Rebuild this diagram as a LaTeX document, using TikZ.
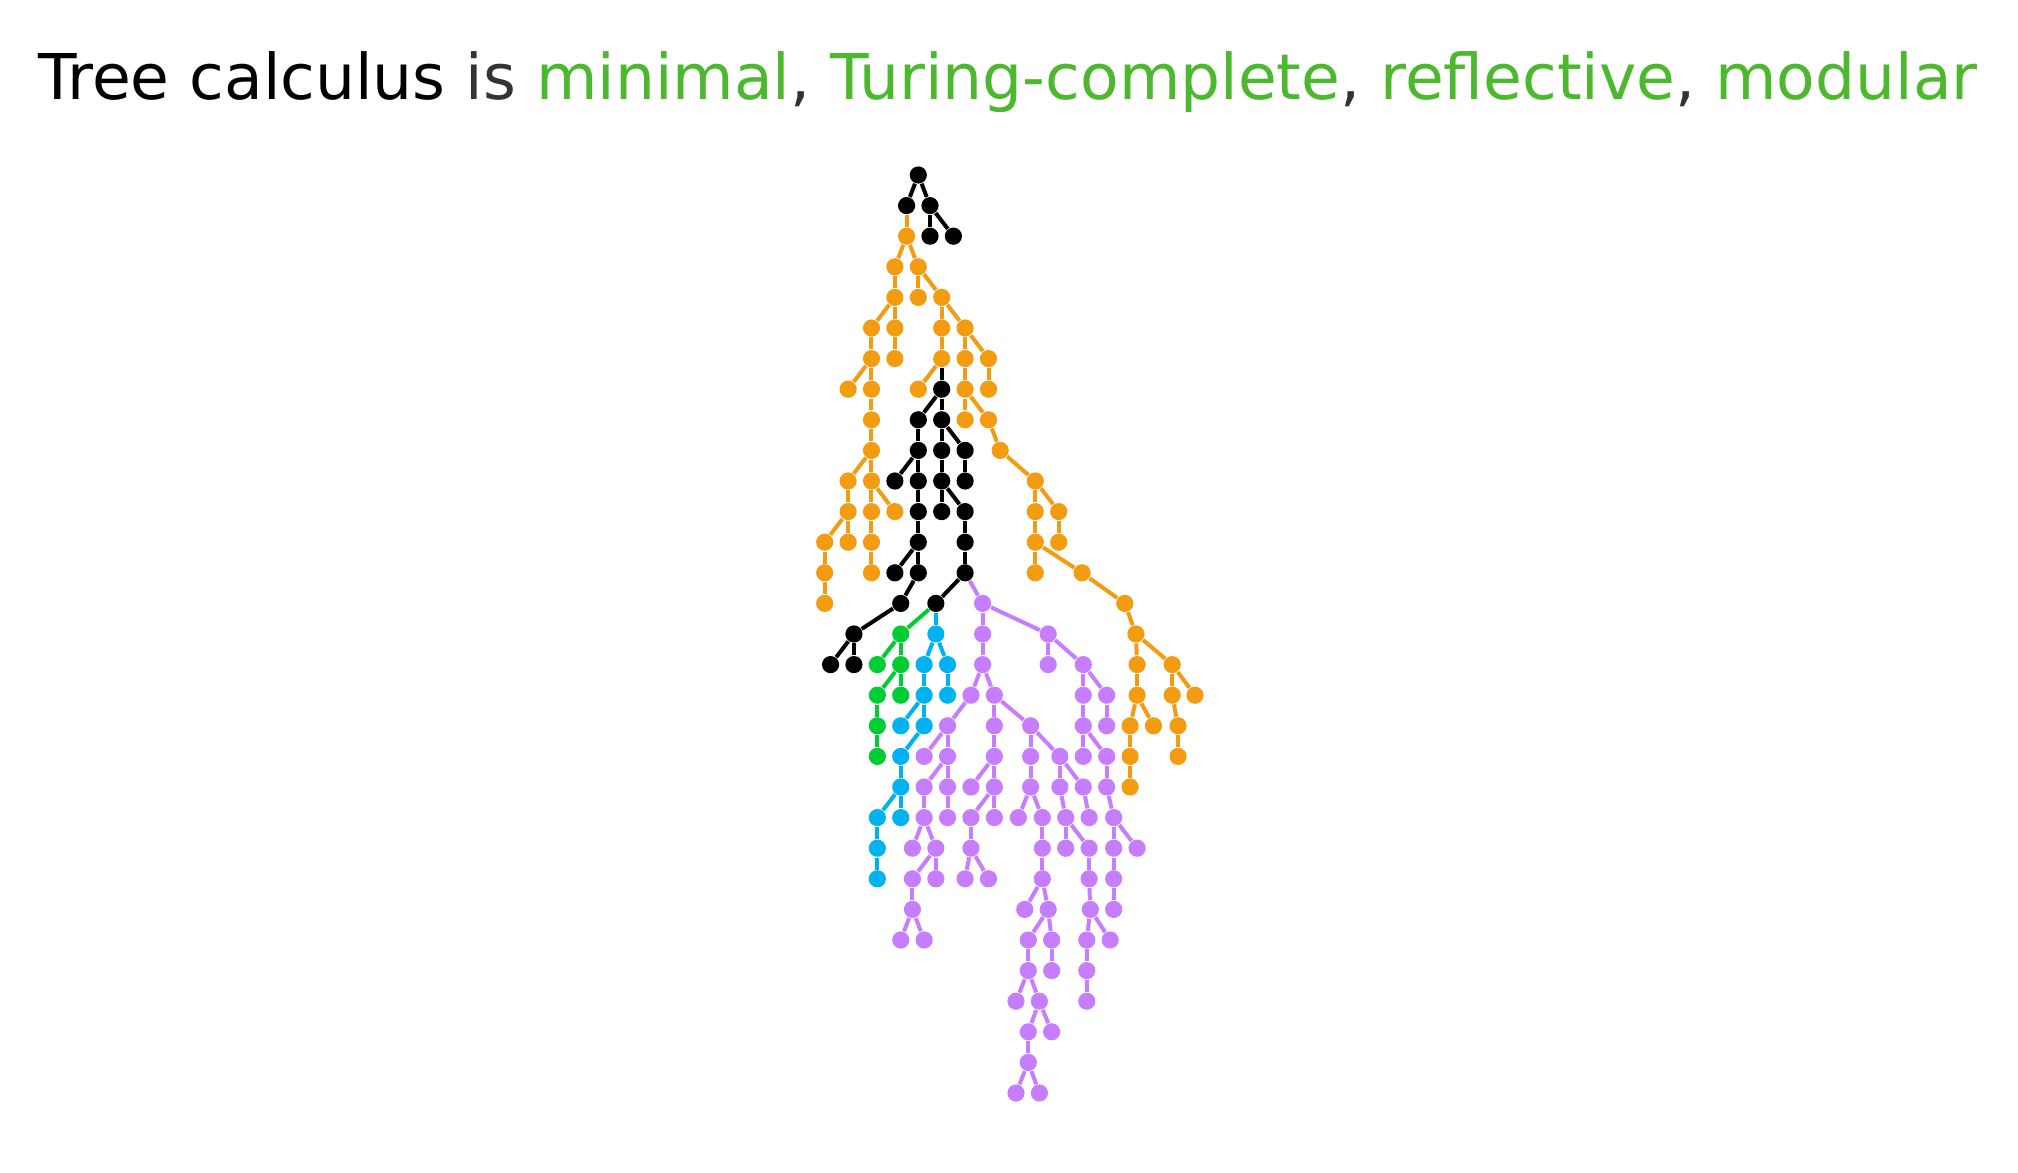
\documentclass[tikz,border=0pt]{standalone}
\usepackage{fontspec}
\setmainfont{DejaVu Sans}
\definecolor{cor}{HTML}{F39C12}
\definecolor{cpu}{HTML}{C77DFF}
\definecolor{cbl}{HTML}{00B2F0}
\definecolor{cgr}{HTML}{00CC33}
\definecolor{cbk}{HTML}{000000}
\definecolor{tgreen}{HTML}{4CB82E}
\definecolor{tgray}{HTML}{333333}
\tikzset{
  dot/.style={circle, inner sep=0pt, minimum size=0.172cm, draw=none},
  nodeb/.style={dot, fill=cbk}, edgeb/.style={draw=cbk, line width=0.04cm},
  nodeo/.style={dot, fill=cor}, edgeo/.style={draw=cor, line width=0.04cm},
  nodep/.style={dot, fill=cpu}, edgep/.style={draw=cpu, line width=0.04cm},
  nodec/.style={dot, fill=cbl}, edgec/.style={draw=cbl, line width=0.04cm},
  nodeg/.style={dot, fill=cgr}, edgeg/.style={draw=cgr, line width=0.04cm},
  titlestyle/.style={anchor=base, inner sep=0pt, font=\fontsize{17.95pt}{21pt}\selectfont}
}
\newcommand\kid[5]{\node[node#1] (#2) at (#3,#4) {}; \draw[edge#1] (#5) -- (#2);}
\begin{document}
\begin{tikzpicture}[x=0.117cm, y=-0.306cm]
\useasboundingbox (-9.183cm,1.75cm) rectangle (10.997cm,-9.97cm);
\node[titlestyle] (title) at (0.897cm,0.76cm) {Tree calculus \textcolor{tgray}{is} \textcolor{tgreen}{minimal}\textcolor{tgray}{,} \textcolor{tgreen}{Turing-complete}\textcolor{tgray}{,} \textcolor{tgreen}{reflective}\textcolor{tgray}{,} \textcolor{tgreen}{modular}};
\node[nodeb] (B0) at (0,0) {};
\kid{b}{B1}{-1}{1}{B0}
\kid{b}{B2}{1}{1}{B0}
\kid{b}{B3}{1}{2}{B2}
\kid{b}{B4}{3}{2}{B2}
\kid{o}{O1}{-1}{2}{B1}
\kid{o}{O2}{-2}{3}{O1}
\kid{o}{O3}{0}{3}{O1}
\kid{o}{O4}{-2}{4}{O2}
\kid{o}{O5}{0}{4}{O3}
\kid{o}{O6}{2}{4}{O3}
\kid{o}{O7}{-4}{5}{O4}
\kid{o}{O8}{-2}{5}{O4}
\kid{o}{O9}{2}{5}{O6}
\kid{o}{O10}{4}{5}{O6}
\kid{o}{O11}{-4}{6}{O7}
\kid{o}{O12}{-2}{6}{O8}
\kid{o}{O13}{2}{6}{O9}
\kid{o}{O14}{4}{6}{O10}
\kid{o}{O15}{6}{6}{O10}
\kid{o}{O16}{-6}{7}{O11}
\kid{o}{O17}{-4}{7}{O11}
\kid{o}{O18}{0}{7}{O13}
\kid{b}{B5}{2}{7}{O13}
\kid{o}{O19}{4}{7}{O14}
\kid{o}{O20}{6}{7}{O15}
\kid{o}{O21}{-4}{8}{O17}
\kid{b}{B6}{0}{8}{B5}
\kid{b}{B7}{2}{8}{B5}
\kid{o}{O22}{4}{8}{O19}
\kid{o}{O23}{6}{8}{O19}
\kid{o}{O24}{-4}{9}{O21}
\kid{b}{B8}{0}{9}{B6}
\kid{b}{B9}{2}{9}{B7}
\kid{b}{B10}{4}{9}{B7}
\kid{o}{O25}{7}{9}{O23}
\kid{o}{O26}{-6}{10}{O24}
\kid{o}{O27}{-4}{10}{O24}
\kid{b}{B11}{-2}{10}{B8}
\kid{b}{B12}{0}{10}{B8}
\kid{b}{B13}{2}{10}{B9}
\kid{b}{B14}{4}{10}{B10}
\kid{o}{O28}{10}{10}{O25}
\kid{o}{O29}{-6}{11}{O26}
\kid{o}{O30}{-4}{11}{O27}
\kid{o}{O31}{-2}{11}{O27}
\kid{b}{B15}{0}{11}{B12}
\kid{b}{B16}{2}{11}{B13}
\kid{b}{B17}{4}{11}{B13}
\kid{o}{O32}{10}{11}{O28}
\kid{o}{O33}{12}{11}{O28}
\kid{o}{O34}{-8}{12}{O29}
\kid{o}{O35}{-6}{12}{O29}
\kid{o}{O36}{-4}{12}{O30}
\kid{b}{B18}{0}{12}{B15}
\kid{b}{B19}{4}{12}{B17}
\kid{o}{O37}{10}{12}{O32}
\kid{o}{O38}{12}{12}{O33}
\kid{o}{O39}{-8}{13}{O34}
\kid{o}{O40}{-4}{13}{O36}
\kid{b}{B20}{-2}{13}{B18}
\kid{b}{B21}{0}{13}{B18}
\kid{b}{B22}{4}{13}{B19}
\kid{o}{O41}{10}{13}{O37}
\kid{o}{O42}{14}{13}{O37}
\kid{o}{O43}{-8}{14}{O39}
\kid{b}{B23}{-1.5}{14}{B21}
\kid{b}{B24}{1.5}{14}{B22}
\kid{p}{P1}{5.5}{14}{B22}
\kid{o}{O44}{17.65}{14}{O42}
\kid{b}{B25}{-5.5}{15}{B23}
\kid{g}{G1}{-1.5}{15}{B24}
\kid{c}{C1}{1.5}{15}{B24}
\kid{p}{P2}{5.5}{15}{P1}
\kid{p}{P3}{11.1}{15}{P1}
\kid{o}{O45}{18.6}{15}{O44}
\kid{b}{B26}{-7.5}{16}{B25}
\kid{b}{B27}{-5.5}{16}{B25}
\kid{g}{G2}{-3.5}{16}{G1}
\kid{g}{G3}{-1.5}{16}{G1}
\kid{c}{C2}{0.5}{16}{C1}
\kid{c}{C3}{2.5}{16}{C1}
\kid{p}{P4}{5.5}{16}{P2}
\kid{p}{P5}{11.1}{16}{P3}
\kid{p}{P6}{14.1}{16}{P3}
\kid{o}{O46}{18.7}{16}{O45}
\kid{o}{O47}{21.7}{16}{O45}
\kid{g}{G4}{-3.5}{17}{G3}
\kid{g}{G5}{-1.5}{17}{G3}
\kid{c}{C4}{0.5}{17}{C2}
\kid{c}{C5}{2.5}{17}{C3}
\kid{p}{P7}{4.5}{17}{P4}
\kid{p}{P8}{6.5}{17}{P4}
\kid{p}{P9}{14.1}{17}{P6}
\kid{p}{P10}{16.1}{17}{P6}
\kid{o}{O48}{18.7}{17}{O46}
\kid{o}{O49}{21.7}{17}{O47}
\kid{o}{O50}{23.65}{17}{O47}
\kid{g}{G6}{-3.5}{18}{G4}
\kid{c}{C6}{-1.5}{18}{C4}
\kid{c}{C7}{0.5}{18}{C4}
\kid{p}{P11}{2.5}{18}{P7}
\kid{p}{P12}{6.5}{18}{P8}
\kid{p}{P13}{9.6}{18}{P8}
\kid{p}{P14}{14.1}{18}{P9}
\kid{p}{P15}{16.1}{18}{P10}
\kid{o}{O51}{18.1}{18}{O48}
\kid{o}{O52}{20.1}{18}{O48}
\kid{o}{O53}{22.2}{18}{O49}
\kid{g}{G7}{-3.5}{19}{G6}
\kid{c}{C8}{-1.5}{19}{C7}
\kid{p}{P16}{0.5}{19}{P11}
\kid{p}{P17}{2.5}{19}{P11}
\kid{p}{P18}{6.5}{19}{P12}
\kid{p}{P19}{9.6}{19}{P13}
\kid{p}{P20}{12.1}{19}{P13}
\kid{p}{P21}{14.1}{19}{P14}
\kid{p}{P22}{16.1}{19}{P14}
\kid{o}{O54}{18.1}{19}{O51}
\kid{o}{O55}{22.2}{19}{O53}
\kid{c}{C9}{-1.5}{20}{C8}
\kid{p}{P23}{0.5}{20}{P17}
\kid{p}{P24}{2.5}{20}{P17}
\kid{p}{P25}{4.5}{20}{P18}
\kid{p}{P26}{6.5}{20}{P18}
\kid{p}{P27}{9.6}{20}{P19}
\kid{p}{P28}{12.1}{20}{P20}
\kid{p}{P29}{14.1}{20}{P20}
\kid{p}{P30}{16.1}{20}{P22}
\kid{o}{O56}{18.1}{20}{O54}
\kid{c}{C10}{-3.5}{21}{C9}
\kid{c}{C11}{-1.5}{21}{C9}
\kid{p}{P31}{0.5}{21}{P23}
\kid{p}{P32}{2.5}{21}{P24}
\kid{p}{P33}{4.5}{21}{P26}
\kid{p}{P34}{6.5}{21}{P26}
\kid{p}{P35}{8.55}{21}{P27}
\kid{p}{P36}{10.6}{21}{P27}
\kid{p}{P37}{12.6}{21}{P28}
\kid{p}{P38}{14.6}{21}{P29}
\kid{p}{P39}{16.7}{21}{P30}
\kid{c}{C12}{-3.5}{22}{C10}
\kid{p}{P40}{-0.5}{22}{P31}
\kid{p}{P41}{1.5}{22}{P31}
\kid{p}{P42}{4.5}{22}{P33}
\kid{p}{P43}{10.6}{22}{P36}
\kid{p}{P44}{12.6}{22}{P37}
\kid{p}{P45}{14.6}{22}{P37}
\kid{p}{P46}{16.7}{22}{P39}
\kid{p}{P47}{18.7}{22}{P39}
\kid{c}{C13}{-3.5}{23}{C12}
\kid{p}{P48}{-0.5}{23}{P41}
\kid{p}{P49}{1.5}{23}{P41}
\kid{p}{P50}{4}{23}{P42}
\kid{p}{P51}{6}{23}{P42}
\kid{p}{P52}{10.6}{23}{P43}
\kid{p}{P53}{14.6}{23}{P45}
\kid{p}{P54}{16.7}{23}{P46}
\kid{p}{P55}{-0.5}{24}{P48}
\kid{p}{P56}{9.1}{24}{P52}
\kid{p}{P57}{11.1}{24}{P52}
\kid{p}{P58}{14.7}{24}{P53}
\kid{p}{P59}{16.7}{24}{P54}
\kid{p}{P60}{-1.5}{25}{P55}
\kid{p}{P61}{0.5}{25}{P55}
\kid{p}{P62}{9.4}{25}{P57}
\kid{p}{P63}{11.4}{25}{P57}
\kid{p}{P64}{14.4}{25}{P58}
\kid{p}{P65}{16.4}{25}{P58}
\kid{p}{P66}{9.4}{26}{P62}
\kid{p}{P67}{11.4}{26}{P63}
\kid{p}{P68}{14.4}{26}{P64}
\kid{p}{P69}{8.35}{27}{P66}
\kid{p}{P70}{10.35}{27}{P66}
\kid{p}{P71}{14.4}{27}{P68}
\kid{p}{P72}{9.4}{28}{P70}
\kid{p}{P73}{11.4}{28}{P70}
\kid{p}{P74}{9.4}{29}{P72}
\kid{p}{P75}{8.35}{30}{P74}
\kid{p}{P76}{10.35}{30}{P74}
\end{tikzpicture}
\end{document}
